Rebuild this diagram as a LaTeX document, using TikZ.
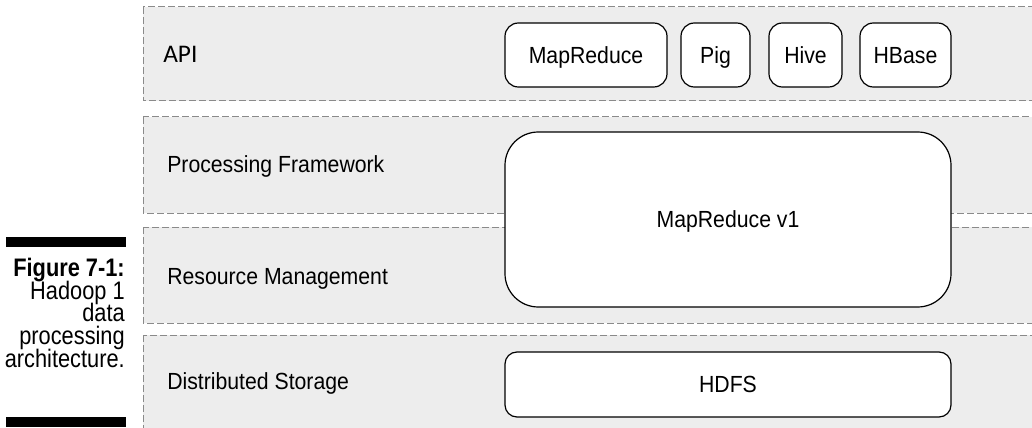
\documentclass[tikz,border=0pt]{standalone}
\usepackage{fontspec}
\setmainfont{Liberation Sans}
\newfontfamily\condfont[FakeStretch=0.91]{Liberation Sans}
\newfontfamily\capfont[FakeStretch=0.86]{Liberation Sans}
\newfontfamily\apifont{Carlito}
\newcommand\captionfont{\capfont\fontsize{19}{17}\selectfont\lineskiplimit=-20pt\relax}
\usetikzlibrary{positioning}
\definecolor{layerfill}{HTML}{EDEDED}
\definecolor{layerline}{HTML}{8A8A8A}
\tikzset{
  layer/.style={fill=layerfill, draw=layerline, line width=0.75pt, dash pattern=on 5pt off 2.5pt},
  layerlabel/.style={anchor=base west, inner sep=0pt, font=\condfont\fontsize{17.5}{20}\selectfont},
  comp/.style={draw=black, fill=white, line width=0.9pt, inner sep=0pt,
    text height=12.5pt, text depth=0pt,
    font=\condfont\fontsize{17.5}{20}\selectfont},
}
\begin{document}
\begin{tikzpicture}[x=0.75pt, y=-0.75pt]
        \useasboundingbox (0,0) rectangle (1032,428);
        \clip (0,0) rectangle (1032,428);
        \draw[layer] (143,  7) rectangle (1040,101);
        \draw[layer] (143,117) rectangle (1040,213);
        \draw[layer] (143,227) rectangle (1040,323);
        \draw[layer] (143,335) rectangle (1040,440);
        \node[layerlabel, font=\apifont\fontsize{19}{20}\selectfont] (apilabel) at (163,62.7) {API};
        \node[layerlabel] (proclabel)  at (167,172)   {Processing Framework};
        \node[layerlabel] (reslabel)   at (167,284)   {Resource Management};
        \node[layerlabel] (storelabel) at (167,389.3) {Distributed Storage};
        \node[comp, rounded corners=10pt, minimum width=121.5pt, minimum height=48pt] (mapreduce) at (586,55)   {MapReduce};
        \node[comp, rounded corners=10pt, minimum width=51.75pt, minimum height=48pt] (pig)       at (715.5,55) {Pig};
        \node[comp, rounded corners=10pt, minimum width=54.75pt, minimum height=48pt] (hive)      at (805.5,55) {Hive};
        \node[comp, rounded corners=10pt, minimum width=68.25pt, minimum height=48pt] (hbase)     at (905.5,55) {HBase};
        \node[comp, rounded corners=25pt, minimum width=334.5pt, minimum height=131.25pt] (mrvone) at (728,219.5) {MapReduce v1};
        \node[comp, rounded corners=9pt,  minimum width=334.5pt, minimum height=48.75pt]  (hdfs)   at (728,384.5) {HDFS};
        \fill (6,237) rectangle (126,247);
        \fill (6,417) rectangle (126,427);
        \node[anchor=base east, align=right, inner sep=0pt, font=\captionfont] (caption) at (125,367)
          {\textbf{Figure 7-1:}\\Hadoop 1\\data\\processing\\architecture.};
      \end{tikzpicture}
\end{document}
